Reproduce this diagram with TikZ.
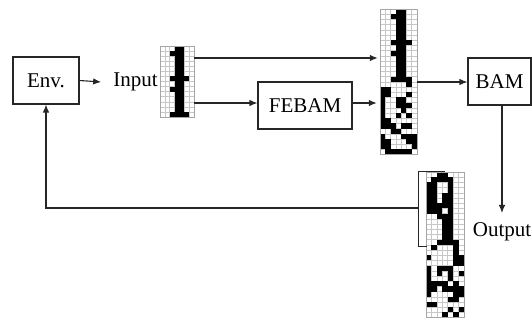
\documentclass[tikz,border=0pt]{standalone}
\usepackage{fontspec}
\setmainfont{Liberation Serif}
\usetikzlibrary{arrows.meta}
\newcommand\pixcells[5]{% x0 y0 cw ch rows
  \foreach \rowlist [count=\rr from 0] in {#5} {
    \foreach \vv [count=\cc from 0] in \rowlist {
      \ifnum\vv=1 \fill[black] ({#1+\cc*#3},{#2+\rr*#4}) rectangle ++(#3,#4); \fi
    }
  }
}
\newcommand\pixlines[6]{% x0 y0 cw ch ncols nrows
  \foreach \ii in {0,...,#5} {\draw[gridline] ({#1+\ii*#3},#2) -- ++(0,{#6*#4});}
  \foreach \jj in {0,...,#6} {\draw[gridline] (#1,{#2+\jj*#4}) -- ++({#5*#3},0);}
}
\begin{document}
\begin{tikzpicture}[x=1pt,y=-1pt,
  gridline/.style={draw=black!22,line width=0.5pt},
  blockbox/.style={draw=black!85,line width=1.1pt,inner sep=0pt,font=\fontsize{21}{25}\selectfont},
  lbl/.style={inner sep=0pt,font=\fontsize{21}{25}\selectfont},
  conn/.style={draw=black!85,line width=1.1pt},
  arr/.style={conn,-{Latex[length=8pt,width=6.5pt]}},
  gridnode/.style={draw=none,inner sep=0pt}]
\useasboundingbox (0,0) rectangle (532,320);
% blocks
\node[blockbox,minimum width=66pt,minimum height=47pt] (env) at (46,80.5) {Env.};
\node[lbl] (input) at (135.5,82) {Input};
\node[blockbox,minimum width=94pt,minimum height=47pt] (febam) at (305,105.5) {FEBAM};
\node[blockbox,minimum width=63pt,minimum height=47pt] (bam) at (499.5,81.5) {BAM};
\node[lbl] (output) at (502,232) {Output};
% grid placeholders
\node[gridnode,minimum width=34pt,minimum height=71pt] (ingrid) at (177,81.5) {};
\node[gridnode,minimum width=37pt,minimum height=145.6pt] (topgrid) at (398.5,81.8) {};
\node[gridnode,minimum width=38pt,minimum height=145.6pt] (outgrid) at (445,244.8) {};
% input grid
\pixlines{160}{46}{4.857}{5.07}{7}{14}
\pixcells{160}{46}{4.857}{5.07}{
{0,0,0,1,1,0,0},{0,0,1,1,1,0,0},{0,0,0,1,1,0,0},{0,0,0,1,1,0,0},{0,0,0,1,1,0,0},{0,0,0,1,1,0,0},{0,0,1,1,1,1,0},
{0,0,0,1,1,0,0},{0,0,1,1,1,0,0},{0,0,0,1,1,0,0},{0,0,0,1,1,0,0},{0,0,0,1,1,0,0},{0,0,0,1,1,0,0},{0,0,1,1,1,1,0}}
\draw[draw=black!35,line width=0.6pt] (160,46) rectangle (194,117);
% upper right grid
\pixlines{380}{9}{5.286}{5.2}{7}{28}
\pixcells{380}{9}{5.286}{5.2}{
{0,0,0,1,1,0,0},{0,0,1,1,1,0,0},{0,0,0,1,1,0,0},{0,0,0,1,1,0,0},{0,0,0,1,1,0,0},{0,0,0,1,1,0,0},{0,0,1,1,1,1,0},
{0,0,0,1,1,0,0},{0,0,1,1,1,0,0},{0,0,0,1,1,0,0},{0,0,0,1,1,0,0},{0,0,0,1,1,0,0},{0,0,0,1,1,0,0},{0,0,1,1,1,1,0},
{0,0,0,0,0,1,0},{1,1,0,0,0,0,0},{1,1,0,0,0,1,0},{1,0,0,1,1,0,0},{1,0,0,1,1,1,0},{1,0,0,0,1,0,0},{1,0,0,1,0,1,0},
{1,1,0,0,0,0,0},{1,1,1,0,1,1,0},{0,0,1,1,0,0,0},{1,0,0,0,1,1,1},{1,1,0,0,0,1,1},{1,1,0,0,0,0,1},{0,1,1,1,1,1,0}}
\draw[draw=black!35,line width=0.6pt] (380,9) rectangle (417,154.6);
% output grid
\pixlines{426}{172}{5.43}{5.2}{7}{28}
\pixcells{426}{172}{5.43}{5.2}{
{0,0,1,1,0,0,0},{0,1,1,1,1,0,0},{1,1,0,0,1,0,0},{1,1,0,0,1,0,0},{1,1,0,1,1,0,0},{1,1,0,1,1,0,0},{1,1,1,1,1,0,0},
{1,1,1,0,1,0,0},{0,0,1,1,1,0,0},{0,0,0,1,1,0,0},{0,0,0,1,1,0,0},{0,0,0,1,1,0,0},{0,0,0,1,1,0,0},{0,0,1,1,1,1,0},
{0,1,0,0,0,1,0},{0,0,0,0,0,1,0},{1,0,0,0,0,1,1},{0,0,0,0,0,1,1},{1,0,1,1,1,0,0},{1,0,1,0,1,0,1},{1,0,0,0,1,0,0},
{1,1,1,1,0,1,0},{1,1,0,1,1,1,1},{1,0,0,0,0,1,1},{0,0,0,0,1,1,0},{1,1,0,0,0,0,0},{0,0,0,0,1,0,1},{0,0,0,1,0,1,0}}
\draw[draw=black!35,line width=0.6pt] (426,172) rectangle (464,317.6);
% bracket around recalled part
\coordinate (brk) at (418,208);
\draw[conn,line width=1pt] (445,172) -- (418,172) -- (418,246) -- (427,246);
% connectors
\draw[arr] (env.east) -- ([xshift=-12pt]input.west);
\draw[arr] (ingrid.east |- 0,58) -- ([xshift=-2pt]topgrid.west |- 0,58);
\draw[arr] (ingrid.east |- 0,103) -- (febam.west |- 0,103);
\draw[arr] (febam.east |- 0,103) -- ([xshift=-3pt]topgrid.west |- 0,103);
\draw[arr] (topgrid.east |- 0,82) -- (bam.west |- 0,82);
\draw[arr] (bam.south -| 502,0) -- (502,213);
\draw[arr] (brk) -| (env.south);
\end{tikzpicture}
\end{document}
